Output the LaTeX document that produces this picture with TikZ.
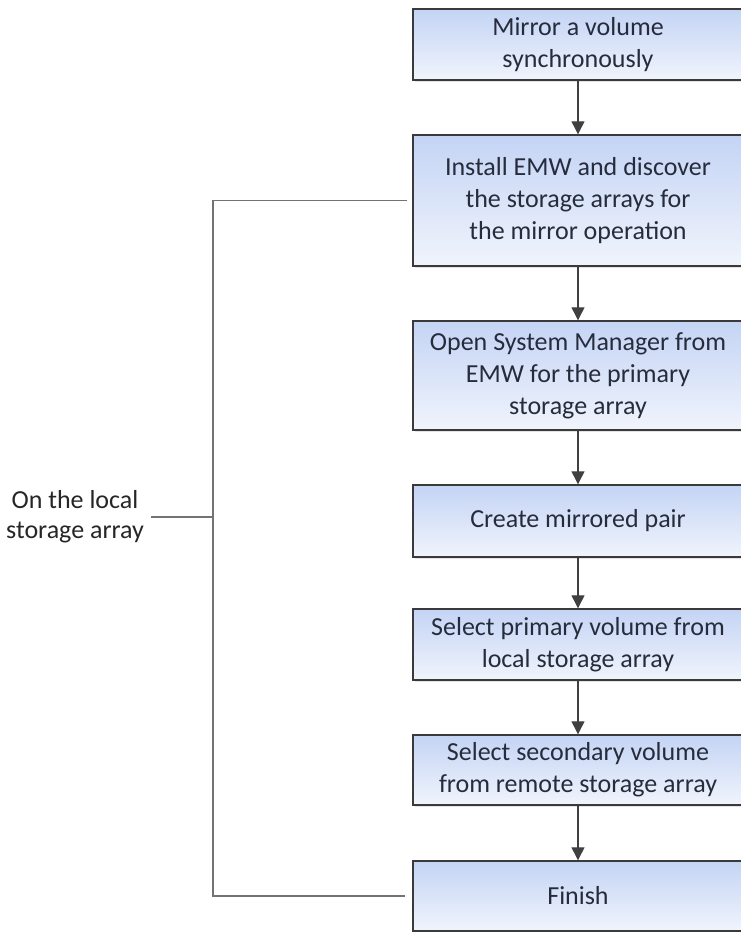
\documentclass[tikz,border=0pt]{standalone}
\usepackage{fontspec}
\setmainfont{Carlito}
\usepackage{tikz}
\usetikzlibrary{arrows.meta}
\usetikzlibrary{shadows}
\usetikzlibrary{positioning}
\definecolor{boxtop}{RGB}{196,212,245}
\definecolor{boxbottom}{RGB}{240,244,252}
\definecolor{boxline}{RGB}{58,58,58}
\definecolor{boxtext}{RGB}{38,44,60}
\definecolor{flowline}{RGB}{64,64,64}

\begin{document}
\begin{tikzpicture}
    [
    x=0.5pt, y=-0.5pt,
    stepbox/.style = {draw=boxline, line width=0.7pt, top color=boxtop, bottom color=boxbottom,
        minimum width=165pt, align=center, inner sep=2pt, text=boxtext,
        font=\fontsize{13}{16}\selectfont,
        drop shadow={shadow xshift=1pt, shadow yshift=-1pt, fill=black!22}},
    flow/.style = {draw=flowline, line width=0.6pt, -{Triangle[width=6.5pt,length=6.5pt]}},
    brace/.style = {draw=black!55, line width=0.6pt}
    ]
\useasboundingbox (0,0) rectangle (740,932);
\node[stepbox, minimum height=35.5pt] (mirror) at (578,44.5) {Mirror a volume\\synchronously};
\node[stepbox, minimum height=65.5pt] (install) at (578,200.5) {Install EMW and discover\\the storage arrays for\\the mirror operation};
\node[stepbox, minimum height=54.5pt] (open) at (578,375.5) {Open System Manager from\\EMW for the primary\\storage array};
\node[stepbox, minimum height=36pt] (create) at (578,521) {Create mirrored pair};
\node[stepbox, minimum height=35.5pt] (primary) at (578,644.5) {Select primary volume from\\local storage array};
\node[stepbox, minimum height=35pt] (secondary) at (578,770) {Select secondary volume\\from remote storage array};
\node[stepbox, minimum height=35pt] (finish) at (578,896) {Finish};

\node[align=center, text=black!85, font=\fontsize{13}{15}\selectfont] (local) at (75,517) {On the local\\storage array};
\coordinate (spine) at (213,517);

\draw[flow] (mirror) -- (install);
\draw[flow] (install) -- (open);
\draw[flow] (open) -- (create);
\draw[flow] (create) -- (primary);
\draw[flow] (primary) -- (secondary);
\draw[flow] (secondary) -- (finish);

\draw[brace] ([xshift=-2.5pt]install.west) -| (spine |- finish.west) -- ([xshift=-3.5pt]finish.west);
\draw[brace] (local.east) -- (spine);
\end{tikzpicture}
\end{document}
